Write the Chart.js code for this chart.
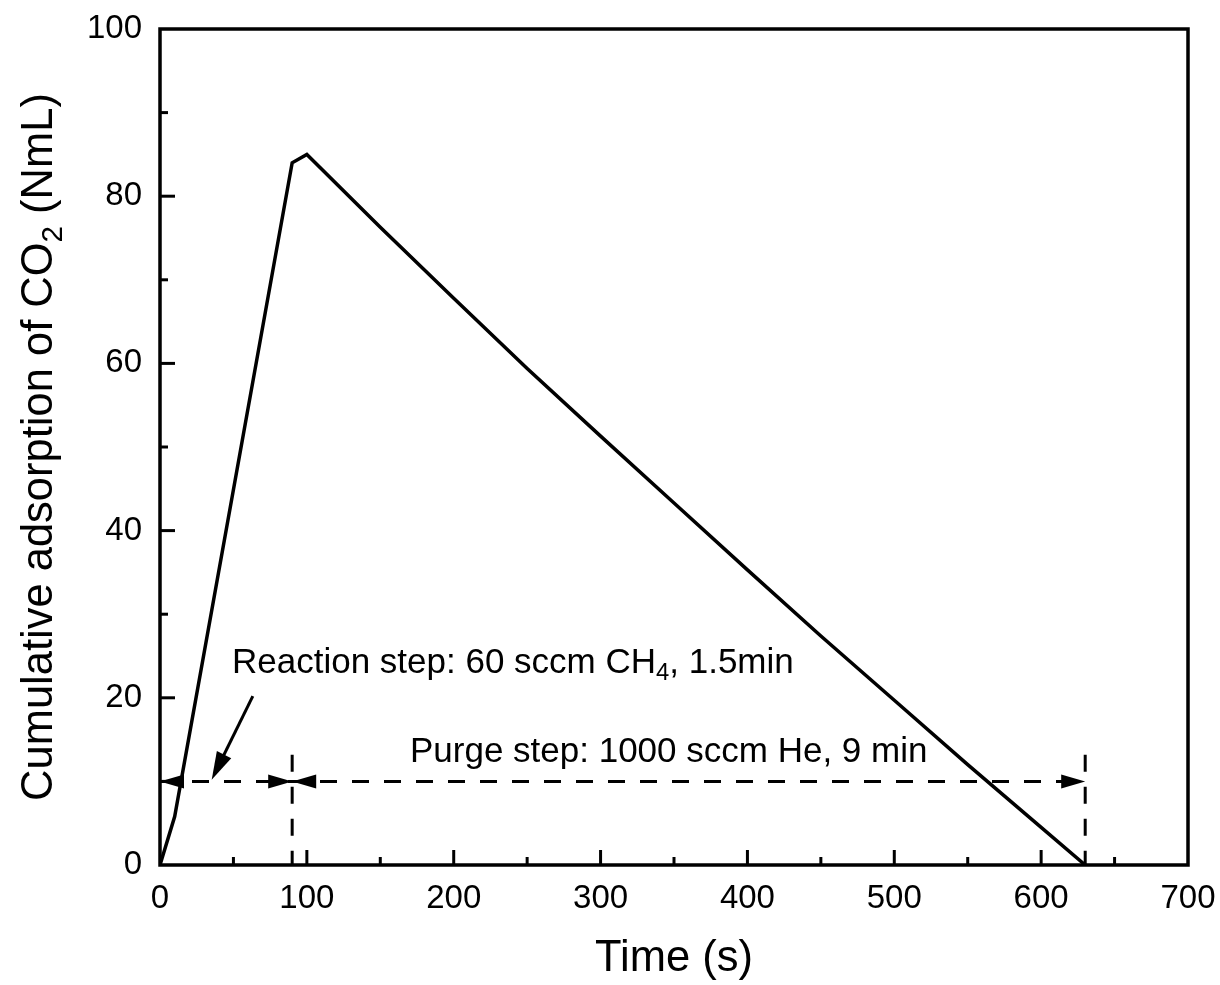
<!DOCTYPE html>
<html>
<head>
<meta charset="utf-8">
<script src="https://cdn.jsdelivr.net/npm/chart.js@4.4.0/dist/chart.umd.min.js"></script>
<style>
  html, body { margin: 0; padding: 0; background: #fff; }
</style>
</head>
<body>
<canvas id="co2Chart" width="1220" height="985"></canvas>
<script>
// Courbe principale : adsorption cumulée de CO2 (NmL) en fonction du temps (s)
const timeS = [0, 10, 90, 100, 150, 200, 250, 300, 350, 400, 450, 500, 550, 600, 630];
const cumulCO2 = [0, 5.8, 84, 85, 76.3, 67.8, 59.4, 51.3, 43.3, 35.3, 27.4, 19.7, 12.0, 4.5, 0];

// Graduations
const xTicks = [0, 100, 200, 300, 400, 500, 600, 700];
const yTicks = [0, 20, 40, 60, 80, 100];

// Flèches des étapes (réaction / purge)
const stepLevel = 10;
const stepBounds = [0, 90, 630];
const markerTop = 13.2;
const reactionArrow = [[63.2, 20.2], [35.2, 10.2]];

// Textes
const reactionLabel = { x: 49, y: 23.0, parts: [["Reaction step: 60 sccm CH", 0], ["4", 1], [", 1.5min", 0]] };
const purgeLabel = { x: 170.2, y: 12.3, parts: [["Purge step: 1000 sccm He, 9 min", 0]] };
const yTitleParts = [["Cumulative adsorption of CO", 0], ["2", 1], [" (NmL)", 0]];

const FONT = "'Liberation Sans', Arial, Helvetica, sans-serif";

function drawRich(ctx, parts, x, y, size, align) {
  // mesure
  let total = 0;
  parts.forEach(([t, sub]) => {
    ctx.font = (sub ? size * 0.68 : size) + "px " + FONT;
    total += ctx.measureText(t).width;
  });
  let cx = align === "center" ? x - total / 2 : x;
  ctx.textAlign = "left";
  ctx.textBaseline = "alphabetic";
  parts.forEach(([t, sub]) => {
    ctx.font = (sub ? size * 0.68 : size) + "px " + FONT;
    ctx.fillText(t, cx, sub ? y + size * 0.22 : y);
    cx += ctx.measureText(t).width;
  });
}

function arrowHead(ctx, tx, ty, dx, dy, len, half) {
  const n = Math.hypot(dx, dy);
  const ux = dx / n, uy = dy / n;
  const bx = tx - ux * len, by = ty - uy * len;
  ctx.beginPath();
  ctx.moveTo(tx, ty);
  ctx.lineTo(bx - uy * half, by + ux * half);
  ctx.lineTo(bx + uy * half, by - ux * half);
  ctx.closePath();
  ctx.fill();
}

const decor = {
  id: "decor",
  afterDraw(chart) {
    const { ctx, chartArea: a, scales: { x, y } } = chart;
    ctx.save();
    ctx.strokeStyle = "#000";
    ctx.fillStyle = "#000";

    // cadre
    ctx.lineWidth = 3.5;
    ctx.strokeRect(a.left, a.top, a.right - a.left, a.bottom - a.top);

    // graduations vers l'intérieur (majeures + mineures)
    ctx.lineWidth = 3;
    for (let v = 50; v < 700; v += 50) {
      const px = x.getPixelForValue(v);
      const len = v % 100 === 0 ? 15 : 8;
      ctx.beginPath();
      ctx.moveTo(px, a.bottom);
      ctx.lineTo(px, a.bottom - len);
      ctx.stroke();
    }
    for (let v = 10; v < 100; v += 10) {
      const py = y.getPixelForValue(v);
      const len = v % 20 === 0 ? 15 : 8;
      ctx.beginPath();
      ctx.moveTo(a.left, py);
      ctx.lineTo(a.left + len, py);
      ctx.stroke();
    }

    // pointes de flèches sur la ligne pointillée
    const ly = y.getPixelForValue(stepLevel);
    const p0 = x.getPixelForValue(stepBounds[0]);
    const p1 = x.getPixelForValue(stepBounds[1]);
    const p2 = x.getPixelForValue(stepBounds[2]);
    arrowHead(ctx, p0, ly, -1, 0, 24, 7);
    arrowHead(ctx, p1, ly, 1, 0, 24, 7);
    arrowHead(ctx, p1, ly, -1, 0, 24, 7);
    arrowHead(ctx, p2, ly, 1, 0, 24, 7);

    // flèche d'annotation de l'étape de réaction
    const sx = x.getPixelForValue(reactionArrow[0][0]);
    const sy = y.getPixelForValue(reactionArrow[0][1]);
    const ex = x.getPixelForValue(reactionArrow[1][0]);
    const ey = y.getPixelForValue(reactionArrow[1][1]);
    ctx.lineWidth = 3;
    ctx.beginPath();
    ctx.moveTo(sx, sy);
    ctx.lineTo(ex + (sx - ex) * 0.2, ey + (sy - ey) * 0.2);
    ctx.stroke();
    arrowHead(ctx, ex, ey, ex - sx, ey - sy, 28, 8);

    // textes d'annotation
    drawRich(ctx, reactionLabel.parts, x.getPixelForValue(reactionLabel.x), y.getPixelForValue(reactionLabel.y), 35, "left");
    drawRich(ctx, purgeLabel.parts, x.getPixelForValue(purgeLabel.x), y.getPixelForValue(purgeLabel.y), 35, "left");

    // titre de l'axe Y (avec indice)
    ctx.translate(37, (a.top + a.bottom) / 2);
    ctx.rotate(-Math.PI / 2);
    drawRich(ctx, yTitleParts, 0, 15, 43.5, "center");
    ctx.restore();
  },
};

const dashStyle = {
  borderColor: "#000",
  borderWidth: 3,
  borderDash: [17, 15],
  pointRadius: 0,
  fill: false,
};

// pas de marge automatique pour les étiquettes qui débordent
function noOverflow(scale) {
  scale.paddingLeft = 0;
  scale.paddingRight = 0;
  scale.paddingTop = 0;
  scale.paddingBottom = 0;
}

const ctx = document.getElementById("co2Chart").getContext("2d");
const co2Chart = new Chart(ctx, {
  type: "line",
  data: {
    datasets: [
      {
        data: timeS.map((t, i) => ({ x: t, y: cumulCO2[i] })),
        borderColor: "#000",
        borderWidth: 3.5,
        pointRadius: 0,
        tension: 0,
        fill: false,
      },
      { ...dashStyle, data: [{ x: stepBounds[0], y: stepLevel }, { x: stepBounds[2], y: stepLevel }] },
      { ...dashStyle, data: [{ x: stepBounds[1], y: markerTop }, { x: stepBounds[1], y: 0 }] },
      { ...dashStyle, data: [{ x: stepBounds[2], y: markerTop }, { x: stepBounds[2], y: 0 }] },
    ],
  },
  options: {
    responsive: false,
    animation: false,
    devicePixelRatio: 1,
    layout: { padding: { top: 29, right: 32, left: 0, bottom: 0 } },
    plugins: {
      legend: { display: false },
      tooltip: { enabled: false },
    },
    scales: {
      x: {
        type: "linear",
        min: 0,
        max: 700,
        afterBuildTicks: (scale) => {
          scale.ticks = xTicks.map((v) => ({ value: v }));
        },
        afterFit: (scale) => {
          scale.height = 120;
          noOverflow(scale);
        },
        grid: { display: false, drawTicks: false },
        border: { display: false },
        ticks: {
          color: "#000",
          padding: 14,
          maxRotation: 0,
          font: { family: FONT, size: 33 },
        },
        title: {
          display: true,
          text: "Time (s)",
          color: "#000",
          padding: 0,
          font: { family: FONT, size: 43.5 },
        },
      },
      y: {
        type: "linear",
        min: 0,
        max: 100,
        afterBuildTicks: (scale) => {
          scale.ticks = yTicks.map((v) => ({ value: v }));
        },
        afterFit: (scale) => {
          scale.width = 160;
          noOverflow(scale);
        },
        grid: { display: false, drawTicks: false },
        border: { display: false },
        ticks: {
          color: "#000",
          padding: 18,
          font: { family: FONT, size: 33 },
        },
      },
    },
  },
  plugins: [decor],
});
</script>
</body>
</html>
